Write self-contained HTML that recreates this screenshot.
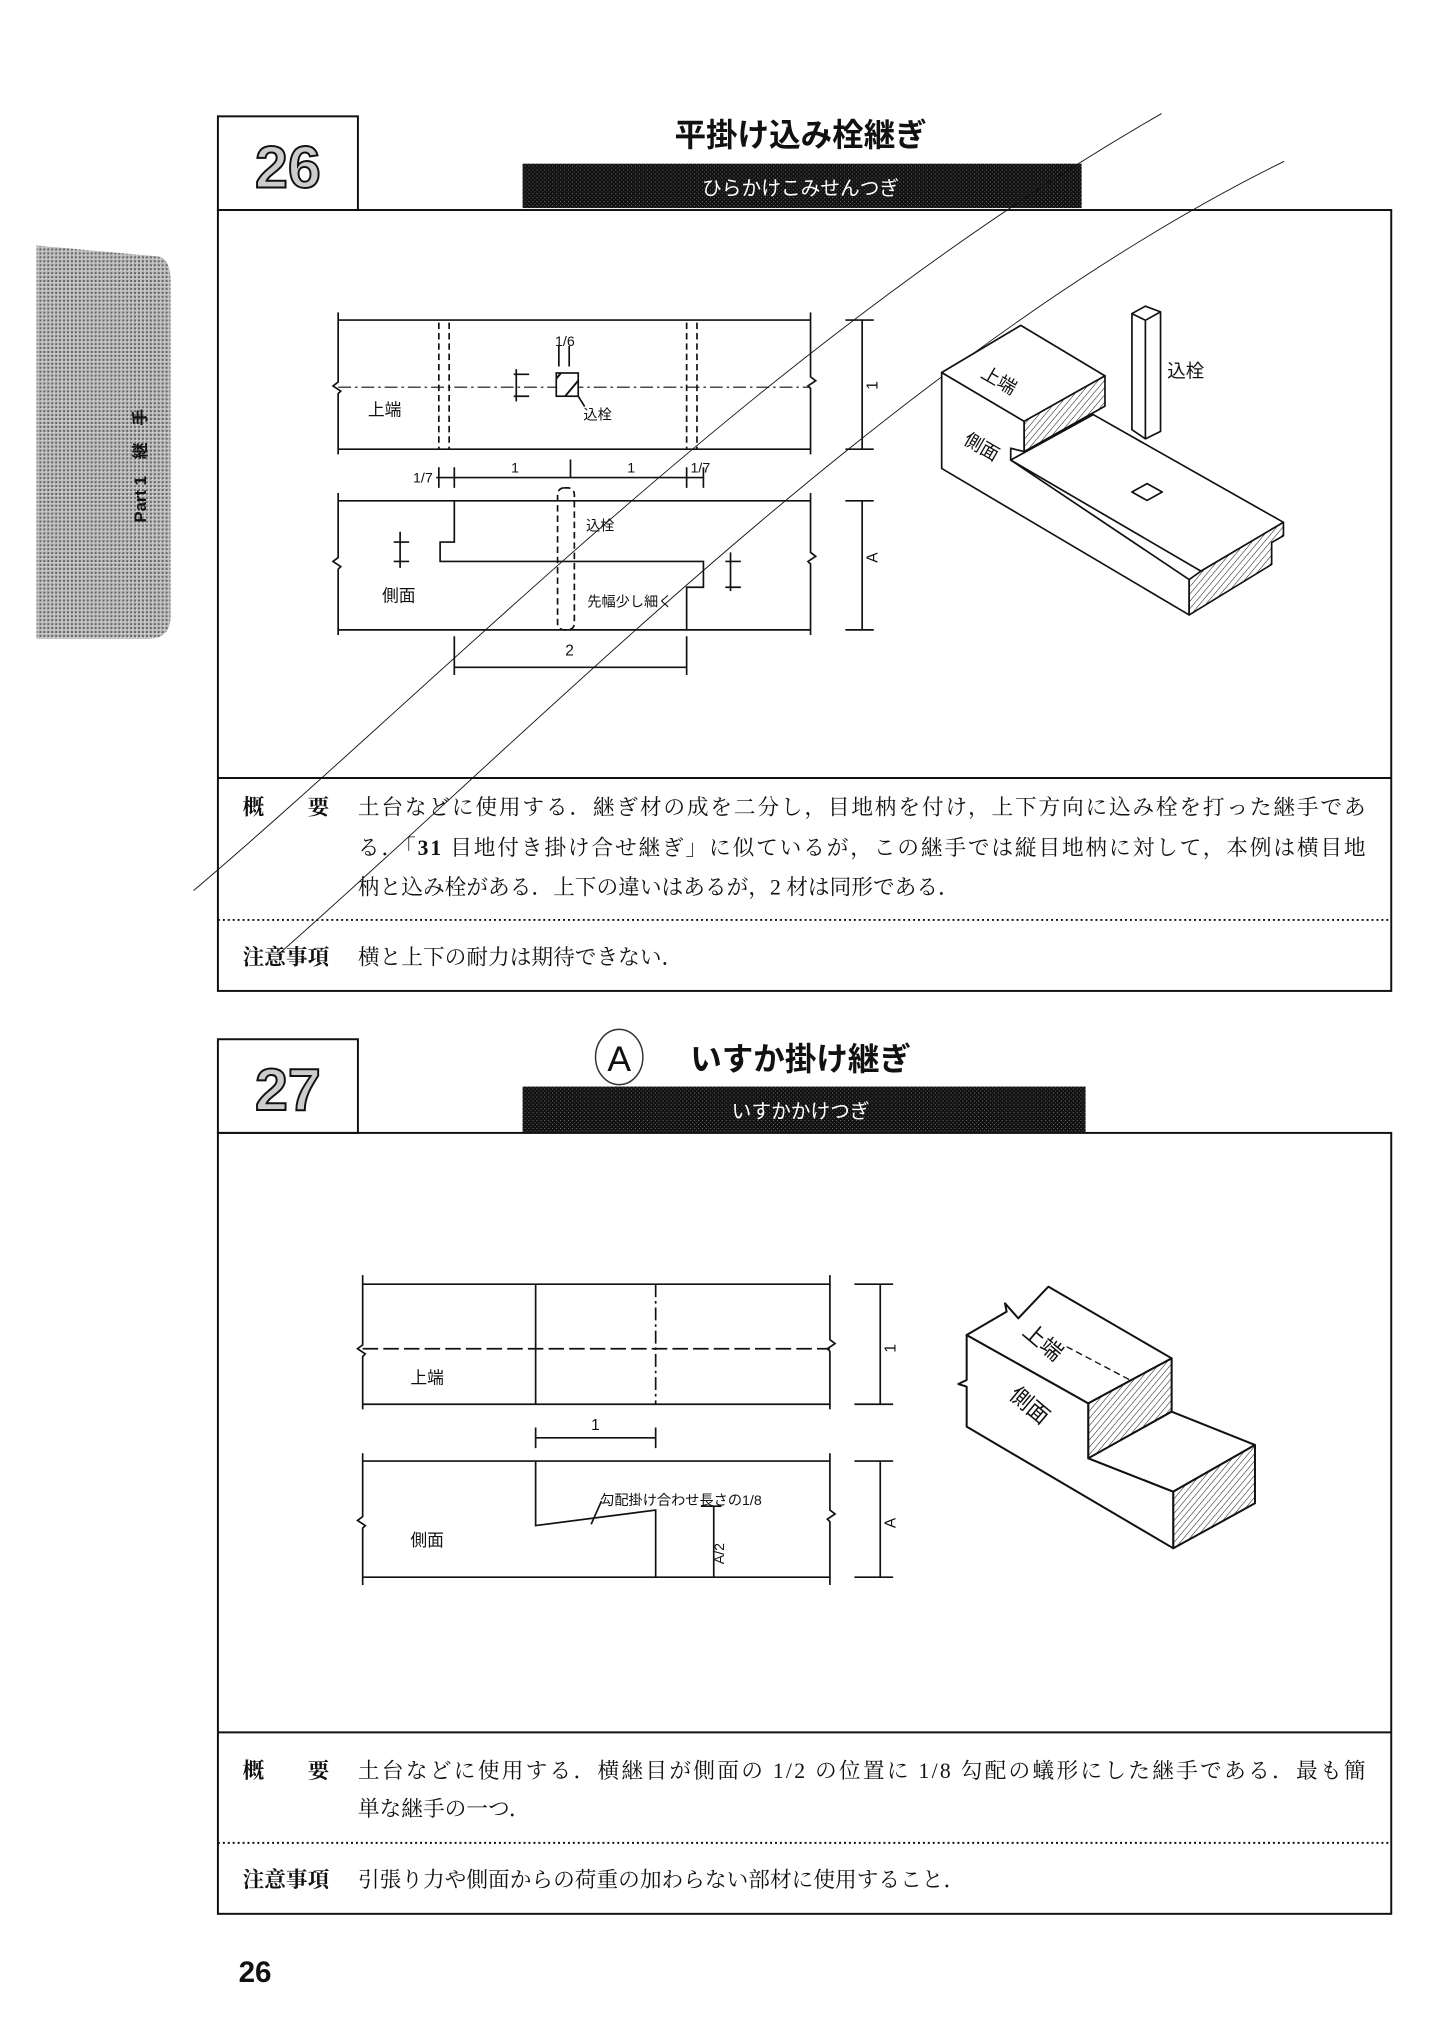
<!DOCTYPE html>
<html><head><meta charset="utf-8"><style>
body{margin:0;background:#fff;}
svg{display:block}
text{font-family:"Liberation Sans","Noto Sans CJK JP",sans-serif;fill:#111}
.b text{font-family:"Liberation Serif","Noto Serif CJK SC",serif}
</style></head><body>
<svg width="1440" height="2024" viewBox="0 0 1440 2024" xmlns="http://www.w3.org/2000/svg">
<defs>
<pattern id="dots" width="4" height="4" patternUnits="userSpaceOnUse"><rect width="4" height="4" fill="#bbb"/><rect width="2" height="2" fill="#666"/><rect x="2" y="2" width="1" height="1" fill="#eee"/></pattern>
<pattern id="dark" width="4" height="4" patternUnits="userSpaceOnUse"><rect width="4" height="4" fill="#111"/><rect width="1" height="1" fill="#777"/><rect x="2" y="2" width="1" height="1" fill="#555"/></pattern>
<pattern id="hatch" width="14" height="14" patternUnits="userSpaceOnUse" patternTransform="rotate(40)"><rect width="14" height="14" fill="#fff"/><line x1="0" y1="0" x2="0" y2="14" stroke="#111" stroke-width="3"/></pattern>
</defs>
<g transform="scale(0.986)">
<path d="M37 249 L160 260 Q173 262 173 285 L173 625 Q173 648 150 648 L37 648 Z" fill="url(#dots)"/>
<text x="0" y="0" transform="translate(148,530) rotate(-90)" font-size="17" font-weight="bold">Part 1　継　手</text>

<g fill="none" stroke="#111">
<rect x="221" y="118" width="142" height="95" stroke-width="2"/>
<rect x="221" y="213" width="1190" height="792" stroke-width="2"/>
<line x1="221" y1="789" x2="1411" y2="789" stroke-width="2"/>
<line x1="221" y1="933" x2="1411" y2="933" stroke-width="2" stroke-dasharray="2 3"/>
<rect x="221" y="1054" width="142" height="95" stroke-width="2"/>
<rect x="221" y="1149" width="1190" height="792" stroke-width="2"/>
<line x1="221" y1="1757" x2="1411" y2="1757" stroke-width="2"/>
<line x1="221" y1="1869" x2="1411" y2="1869" stroke-width="2" stroke-dasharray="2 3"/>
</g>
<rect x="530" y="166" width="567" height="45" fill="url(#dark)"/>
<rect x="530" y="1102" width="571" height="46" fill="url(#dark)"/>
<text x="292" y="190" font-size="60" font-weight="bold" text-anchor="middle" stroke="#111" stroke-width="2" style="fill:#ccc">26</text>
<text x="292" y="1126" font-size="60" font-weight="bold" text-anchor="middle" stroke="#111" stroke-width="2" style="fill:#ccc">27</text>
<text x="812" y="148" font-size="32" font-weight="bold" text-anchor="middle">平掛け込み栓継ぎ</text>
<text x="812" y="198" font-size="20" text-anchor="middle" style="fill:#fff">ひらかけこみせんつぎ</text>
<text x="812" y="1085" font-size="32" font-weight="bold" text-anchor="middle">いすか掛け継ぎ</text>
<text x="812" y="1134" font-size="20" text-anchor="middle" style="fill:#fff">いすかかけつぎ</text>
<ellipse cx="628" cy="1072" rx="24" ry="28" fill="none" stroke="#333" stroke-width="1.5"/>
<text x="628" y="1086" font-size="36" text-anchor="middle">A</text>

<g font-size="22" class="b">
<text x="246" y="826" font-weight="bold">概　　要</text>
<text x="363" y="826" textLength="1022" lengthAdjust="spacing">土台などに使用する．継ぎ材の成を二分し，目地枘を付け，上下方向に込み栓を打った継手であ</text>
<text x="363" y="867" textLength="1022" lengthAdjust="spacing">る．「<tspan font-weight="bold">31</tspan> 目地付き掛け合せ継ぎ」に似ているが，この継手では縦目地枘に対して，本例は横目地</text>
<text x="363" y="907">枘と込み栓がある．上下の違いはあるが，2 材は同形である．</text>
<text x="246" y="978" font-weight="bold">注意事項</text>
<text x="363" y="978">横と上下の耐力は期待できない．</text>
<text x="246" y="1803" font-weight="bold">概　　要</text>
<text x="363" y="1803" textLength="1022" lengthAdjust="spacing">土台などに使用する．横継目が側面の 1/2 の位置に 1/8 勾配の蟻形にした継手である．最も簡</text>
<text x="363" y="1842">単な継手の一つ．</text>
<text x="246" y="1914" font-weight="bold">注意事項</text>
<text x="363" y="1914">引張り力や側面からの荷重の加わらない部材に使用すること．</text>
</g>
<text x="242" y="2010" font-size="30" font-weight="bold">26</text>

<g transform="scale(1.309)">
<g fill="none" stroke="#111" stroke-width="1.3">
<line x1="262" y1="248" x2="628" y2="248"/><line x1="262" y1="348" x2="628" y2="348"/>
<path d="M262 242 V296 l-4 3 l6 4 l-2 2 V352"/><path d="M628 242 V292 l4 3 l-6 4 l2 2 V352"/>
<g stroke-dasharray="5 3"><line x1="340" y1="250" x2="340" y2="348"/><line x1="348" y1="250" x2="348" y2="348"/><line x1="532" y1="250" x2="532" y2="348"/><line x1="540" y1="250" x2="540" y2="348"/></g>
<line x1="262" y1="300" x2="628" y2="300" stroke-dasharray="10 3 2 3" stroke-width="0.8"/>
<rect x="431" y="289" width="17" height="18" fill="url(#hatch)"/>
<path d="M398 290 h12 M398 307 h12 M400 286 v25 M433 268 v16 M441 268 v16 M448 307 l5 8"/>
<path d="M655 248 h22 M655 348 h22 M668 248 v100"/>
<path d="M338 370 H545 M352 362 v16 M340 362 v16 M532 362 v16 M545 362 v16 M442 356 v14"/>
<line x1="262" y1="388" x2="628" y2="388"/><line x1="262" y1="488" x2="628" y2="488"/>
<path d="M262 382 V432 l-4 3 l6 4 l-2 2 V492"/><path d="M628 382 V428 l4 3 l-6 4 l2 2 V492"/>
<path d="M352 388 V420 H341 V435 H545 V455 H532 V488"/>
<path d="M305 420 h12 M305 435 h12 M310 412 v28 M562 435 h12 M562 455 h12 M566 428 v30"/>
<rect x="432" y="378" width="13" height="110" rx="5" stroke-dasharray="5 3"/>
<path d="M655 388 h22 M655 488 h22 M668 388 v100"/>
<path d="M352 493 v30 M532 493 v30 M352 517 H532"/>
<line x1="281" y1="995" x2="643" y2="995"/><line x1="281" y1="1088" x2="643" y2="1088"/>
<path d="M281 988 V1042 l-4 3 l6 4 l-2 2 V1092"/><path d="M643 988 V1038 l4 3 l-6 4 l2 2 V1092"/>
<line x1="415" y1="995" x2="415" y2="1088"/>
<line x1="508" y1="995" x2="508" y2="1088" stroke-dasharray="10 3 2 3"/>
<line x1="281" y1="1045" x2="643" y2="1045" stroke-dasharray="12 4"/>
<path d="M662 995 h30 M662 1088 h30 M682 995 v93"/>
<path d="M415 1106 v16 M508 1106 v16 M415 1114 H508"/>
<line x1="281" y1="1132" x2="643" y2="1132"/><line x1="281" y1="1222" x2="643" y2="1222"/>
<path d="M281 1126 V1175 l-4 3 l6 4 l-2 2 V1228"/><path d="M643 1126 V1170 l4 3 l-6 4 l2 2 V1228"/>
<path d="M415 1132 V1182 L508 1170 V1222"/>
<path d="M543 1167 h16 M553 1167 v55"/>
<path d="M662 1132 h30 M662 1222 h30 M682 1132 v90"/>
<path d="M458 1181 l8 -18"/>
<path d="M150 690 C 350 520, 600 260, 900 88" stroke-width="0.7"/>
<path d="M215 740 C 420 560, 700 270, 995 125" stroke-width="0.7"/>
</g>
<g font-size="13">
<text x="285" y="322">上端</text><text x="430" y="268" font-size="11">1/6</text><text x="452" y="325" font-size="11">込栓</text>
<text x="320" y="374" font-size="11">1/7</text><text x="396" y="366" font-size="11">1</text><text x="486" y="366" font-size="11">1</text><text x="535" y="366" font-size="11">1/7</text>
<text x="454" y="411" font-size="11">込栓</text><text x="296" y="466">側面</text><text x="455" y="470" font-size="11">先幅少し細く</text>
<text x="438" y="508" font-size="12">2</text>
<text transform="translate(680,436) rotate(-90)" font-size="12">A</text>
<text transform="translate(680,302) rotate(-90)" font-size="12">1</text>
<text x="318" y="1072">上端</text><text x="318" y="1198">側面</text>
<text x="465" y="1166" font-size="11">勾配掛け合わせ長さの1/8</text>
<text x="458" y="1108" font-size="12">1</text>
<text transform="translate(694,1048) rotate(-90)" font-size="12">1</text>
<text transform="translate(694,1184) rotate(-90)" font-size="12">A</text>
<text transform="translate(561,1212) rotate(-90)" font-size="11">A/2</text>
</g>
</g>
</g>

<g transform="translate(940,290) scale(0.3367)" fill="#fff" stroke="#111" stroke-width="5" stroke-linejoin="round">
<path d="M5 245 L5 530 L740 965 L740 860 L210 505 L210 470 L250 480 L250 390 Z"/>
<path d="M5 245 L240 105 L490 255 L250 390 Z"/>
<path d="M250 390 L490 255 L490 345 L250 480 Z" fill="url(#hatch)"/>
<path d="M210 505 L455 370 L1020 690 L775 835 Z"/>
<path d="M740 860 L775 835 L1020 690 L1020 730 L985 750 L985 815 L740 965 Z" fill="url(#hatch)"/>
<path d="M570 70 L610 48 L655 65 L655 420 L610 442 L570 415 Z"/>
<path d="M610 90 L610 442 M570 70 L610 90 L655 65" fill="none"/>
<path d="M570 600 L615 575 L660 600 L615 625 Z"/>
<text x="675" y="260" font-size="55" stroke="none">込栓</text>
<text x="120" y="290" font-size="55" stroke="none" transform="rotate(30 180 270)">上端</text>
<text x="60" y="480" font-size="55" stroke="none" transform="rotate(30 110 480)">側面</text>
</g>
<g transform="translate(950,1250) scale(0.3333)" fill="#fff" stroke="#111" stroke-width="6" stroke-linejoin="round">
<path d="M50 255 L50 390 L25 402 L50 410 L50 530 L670 895 L670 725 L415 625 L415 460 Z"/>
<path d="M50 255 L170 185 L165 160 L205 205 L295 110 L665 325 L415 460 Z"/>
<path d="M415 460 L665 325 L665 485 L415 625 Z" fill="url(#hatch)"/>
<path d="M415 625 L665 485 L915 585 L670 725 Z"/>
<path d="M670 725 L915 585 L915 760 L670 895 Z" fill="url(#hatch)"/>
<path d="M350 290 L540 390" fill="none" stroke-dasharray="20 12" stroke-width="4"/>
<text x="200" y="290" font-size="66" stroke="none" transform="rotate(40 260 290)">上端</text>
<text x="160" y="480" font-size="66" stroke="none" transform="rotate(40 220 480)">側面</text>
</g>
</svg>
</body></html>
